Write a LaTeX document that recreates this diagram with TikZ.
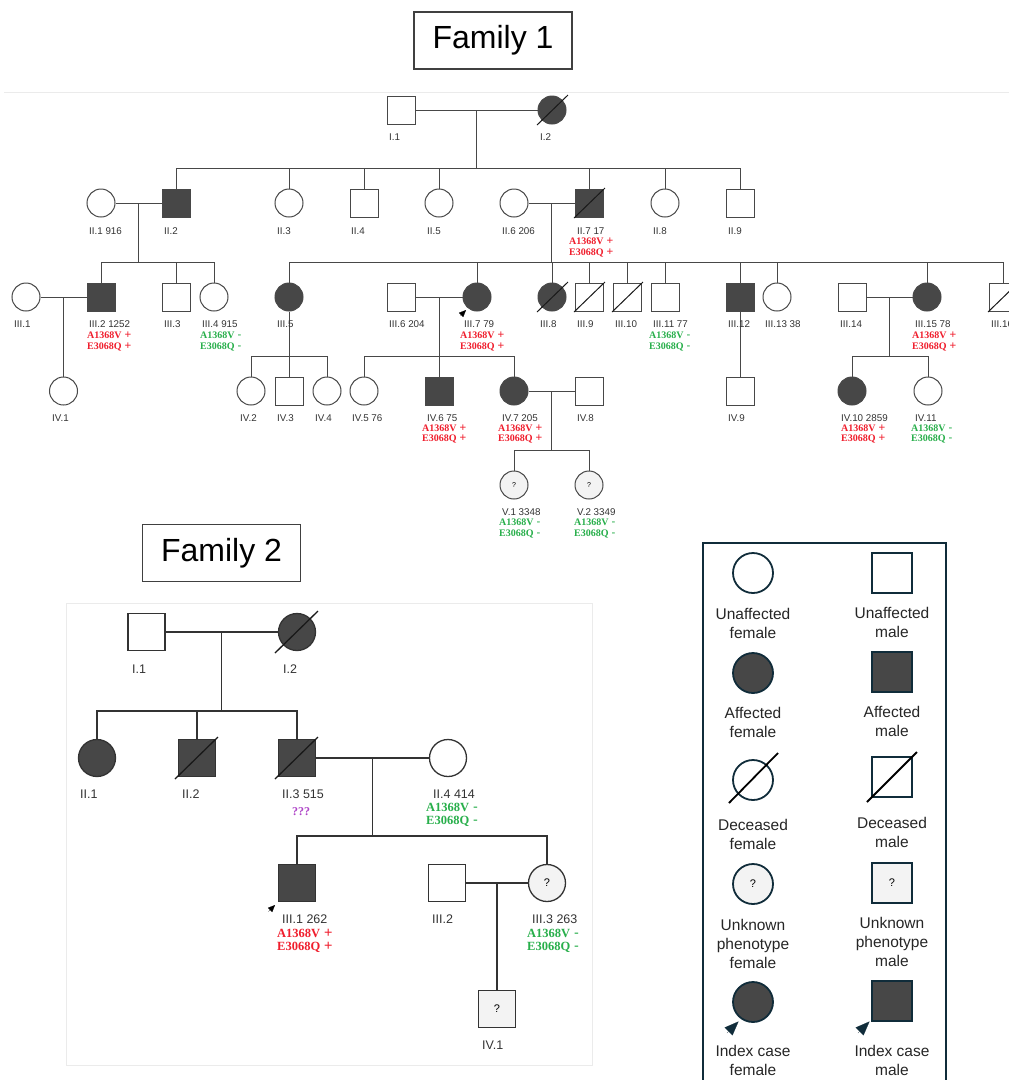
\documentclass[tikz,border=0pt]{standalone}
\usepackage{fontspec}
\setmainfont{Liberation Sans}
\newfontfamily\genofont{Liberation Serif}
\usetikzlibrary{arrows.meta,calc}

\definecolor{affgray}{RGB}{71,71,71}
\definecolor{unkgray}{RGB}{243,243,243}
\definecolor{linegray}{RGB}{72,72,72}
\definecolor{legteal}{RGB}{16,44,58}
\definecolor{posred}{RGB}{240,30,45}
\definecolor{neggreen}{RGB}{40,175,75}
\definecolor{unkpurple}{RGB}{175,70,200}

\newcommand{\gsign}[1]{\hspace{0.3em}{\mdseries\fontspec{Liberation Sans}\scalebox{1.15}{#1}}}
\newcommand{\genopos}{A1368V\gsign{+}\\E3068Q\gsign{+}}
\newcommand{\genoneg}{A1368V\gsign{-}\\E3068Q\gsign{-}}

\tikzset{
  female/.style={circle, draw=linegray, line width=1pt, fill=white, inner sep=0pt, minimum size=28pt},
  male/.style={rectangle, draw=linegray, line width=1pt, fill=white, inner sep=0pt, minimum size=28pt},
  affected/.style={fill=affgray},
  unknown/.style={fill=unkgray, font=\fontsize{7}{7}\selectfont},
  big/.style={minimum size=37pt, line width=1.3pt, draw=black!80},
  link/.style={draw=linegray, line width=1pt, line join=miter},
  linkB/.style={draw=black!80, line width=1.3pt, line join=miter},
  slash/.style={draw=black!90, line width=1pt},
  lbl/.style={anchor=west, inner sep=0pt, text=black!80, font=\fontsize{9.8}{10}\selectfont},
  lblB/.style={lbl, font=\fontsize{12.5}{13}\selectfont},
  geno/.style={anchor=west, inner sep=0pt, align=left, font=\genofont\bfseries\fontsize{10}{10.5}\selectfont},
  genoB/.style={geno, font=\genofont\bfseries\fontsize{12.5}{13.5}\selectfont},
  plusgeno/.style={text=posred},
  neg/.style={text=neggreen},
  titlebox/.style={draw=black!75, line width=1.2pt, inner sep=0pt, minimum width=158pt, minimum height=57pt, font=\fontsize{32}{32}\selectfont},
  legF/.style={circle, draw=legteal, line width=1.8pt, fill=white, inner sep=0pt, minimum size=40pt, font=\fontsize{11}{11}\selectfont},
  legM/.style={legF, rectangle},
  legtxt/.style={align=center, inner sep=0pt, text=black!85, font=\fontsize{15.5}{19}\selectfont},
  idxS/.style={line width=0.1pt, -{Triangle[length=7pt, width=6pt]}},
  idxL/.style={legteal, line width=0.1pt, -{Triangle[length=14pt, width=11pt]}},
}

\begin{document}
\begin{tikzpicture}[x=1pt, y=-1pt]
    \useasboundingbox (0,0) rectangle (1009,1080);
    \fill[white] (0,0) rectangle (1009,1080);
    \clip (0,0) rectangle (1009,1080);

    % Titles and frames
    \node[titlebox] (fam1) at (493,40.5) {Family 1};
    \node[titlebox] (fam2) at (221.5,553) {Family 2};
    \draw[black!8, line width=0.8pt] (4,92) -- (1009,92);
    \draw[black!8, line width=0.8pt] (66,603) rectangle (592,1065);

    % Family 1: generation I
    \node[male] (aI1) at (401,110) {};
    \node[female, affected] (aI2) at (552,110) {};

    % Family 1: generation II
    \node[female] (aII1) at (101,203) {};
    \node[male, affected] (aII2) at (176,203) {};
    \node[female] (aII3) at (289,203) {};
    \node[male] (aII4) at (364,203) {};
    \node[female] (aII5) at (439,203) {};
    \node[female] (aII6) at (514,203) {};
    \node[male, affected] (aII7) at (589,203) {};
    \node[female] (aII8) at (665,203) {};
    \node[male] (aII9) at (740,203) {};

    % Family 1: generation III
    \node[female] (aIII1) at (26,297) {};
    \node[male, affected] (aIII2) at (101,297) {};
    \node[male] (aIII3) at (176,297) {};
    \node[female] (aIII4) at (214,297) {};
    \node[female, affected] (aIII5) at (289,297) {};
    \node[male] (aIII6) at (401,297) {};
    \node[female, affected] (aIII7) at (477,297) {};
    \node[female, affected] (aIII8) at (552,297) {};
    \node[male] (aIII9) at (589,297) {};
    \node[male] (aIII10) at (627,297) {};
    \node[male] (aIII11) at (665,297) {};
    \node[male, affected] (aIII12) at (740,297) {};
    \node[female] (aIII13) at (777,297) {};
    \node[male] (aIII14) at (852,297) {};
    \node[female, affected] (aIII15) at (927,297) {};
    \node[male] (aIII16) at (1003,297) {};

    % Family 1: generation IV
    \node[female] (aIV1) at (63.5,391) {};
    \node[female] (aIV2) at (251,391) {};
    \node[male] (aIV3) at (289,391) {};
    \node[female] (aIV4) at (327,391) {};
    \node[female] (aIV5) at (364,391) {};
    \node[male, affected] (aIV6) at (439,391) {};
    \node[female, affected] (aIV7) at (514,391) {};
    \node[male] (aIV8) at (589,391) {};
    \node[male] (aIV9) at (740,391) {};
    \node[female, affected] (aIV10) at (852,391) {};
    \node[female] (aIV11) at (928,391) {};

    % Family 1: generation V
    \node[female, unknown] (aV1) at (514,485) {?};
    \node[female, unknown] (aV2) at (589,485) {?};

    % Family 1: connectors
    \draw[link] (aI1) -- (aI2);
    \coordinate (aMI) at ($(aI1)!0.5!(aI2)$);
    \coordinate (aSII) at ($(aMI)+(0,58)$);
    \draw[link] (aMI) -- (aSII);
    \foreach \c in {aII2,aII3,aII4,aII5,aII7,aII8,aII9}
        \draw[link] (\c.north) |- (aSII);

    \draw[link] (aII1) -- (aII2);
    \coordinate (aMII12) at ($(aII1)!0.5!(aII2)$);
    \coordinate (aSIIIa) at ($(aMII12)+(0,59)$);
    \draw[link] (aMII12) -- (aSIIIa);
    \foreach \c in {aIII2,aIII3,aIII4}
        \draw[link] (\c.north) |- (aSIIIa);

    \draw[link] (aII6) -- (aII7);
    \coordinate (aMII67) at ($(aII6)!0.5!(aII7)$);
    \coordinate (aSIIIb) at ($(aMII67)+(0,59)$);
    \draw[link] (aMII67) -- (aSIIIb);
    \foreach \c in {aIII5,aIII7,aIII8,aIII9,aIII10,aIII11,aIII12,aIII13,aIII15,aIII16}
        \draw[link] (\c.north) |- (aSIIIb);

    \draw[link] (aIII1) -- (aIII2);
    \coordinate (aMIII12) at ($(aIII1)!0.5!(aIII2)$);
    \draw[link] (aMIII12) -- (aIV1.north);

    \coordinate (aSIVa) at ($(aIII5.south)+(0,45)$);
    \draw[link] (aIII5.south) -- (aSIVa);
    \foreach \c in {aIV2,aIV3,aIV4}
        \draw[link] (\c.north) |- (aSIVa);

    \draw[link] (aIII6) -- (aIII7);
    \coordinate (aMIII67) at ($(aIII6)!0.5!(aIII7)$);
    \coordinate (aSIVb) at ($(aMIII67)+(0,59)$);
    \draw[link] (aMIII67) -- (aSIVb);
    \foreach \c in {aIV5,aIV6,aIV7}
        \draw[link] (\c.north) |- (aSIVb);

    \draw[link] (aIII12.south) -- (aIV9.north);

    \draw[link] (aIII14) -- (aIII15);
    \coordinate (aMIII1415) at ($(aIII14)!0.5!(aIII15)$);
    \coordinate (aSIVc) at ($(aMIII1415)+(0,59)$);
    \draw[link] (aMIII1415) -- (aSIVc);
    \foreach \c in {aIV10,aIV11}
        \draw[link] (\c.north) |- (aSIVc);

    \draw[link] (aIV7) -- (aIV8);
    \coordinate (aMIV78) at ($(aIV7)!0.5!(aIV8)$);
    \coordinate (aSV) at ($(aMIV78)+(0,59)$);
    \draw[link] (aMIV78) -- (aSV);
    \foreach \c in {aV1,aV2}
        \draw[link] (\c.north) |- (aSV);

    % Family 1: deceased
    \foreach \n in {aI2,aII7,aIII8,aIII9,aIII10,aIII16}
        \draw[slash] ($(\n.center)+(-15,15)$) -- ($(\n.center)+(16,-15)$);

    % Family 1: index case
    \coordinate (aIII7i) at (460.5,315.5);
    \coordinate (aIII7t) at (466,310);
    \draw[idxS] (aIII7i) -- (aIII7t);

    % Family 1: labels
    \node[lbl] (aI1l) at (389,137) {I.1};
    \node[lbl] (aI2l) at (540,137) {I.2};

    \node[lbl] (aII1l) at (89,231) {II.1 916};
    \node[lbl] (aII2l) at (164,231) {II.2};
    \node[lbl] (aII3l) at (277,231) {II.3};
    \node[lbl] (aII4l) at (351,231) {II.4};
    \node[lbl] (aII5l) at (427,231) {II.5};
    \node[lbl] (aII6l) at (502,231) {II.6 206};
    \node[lbl] (aII7l) at (577,231) {II.7 17};
    \node[lbl] (aII8l) at (653,231) {II.8};
    \node[lbl] (aII9l) at (728,231) {II.9};
    \node[geno, plusgeno] (aII7g) at (569,247.5) {\genopos};

    \node[lbl] (aIII1l) at (14,324) {III.1};
    \node[lbl] (aIII2l) at (89,324) {III.2 1252};
    \node[lbl] (aIII3l) at (164,324) {III.3};
    \node[lbl] (aIII4l) at (202,324) {III.4 915};
    \node[lbl] (aIII5l) at (277,324) {III.5};
    \node[lbl] (aIII6l) at (389,324) {III.6 204};
    \node[lbl] (aIII7l) at (464,324) {III.7 79};
    \node[lbl] (aIII8l) at (540,324) {III.8};
    \node[lbl] (aIII9l) at (577,324) {III.9};
    \node[lbl] (aIII10l) at (615,324) {III.10};
    \node[lbl] (aIII11l) at (653,324) {III.11 77};
    \node[lbl] (aIII12l) at (728,324) {III.12};
    \node[lbl] (aIII13l) at (765,324) {III.13 38};
    \node[lbl] (aIII14l) at (840,324) {III.14};
    \node[lbl] (aIII15l) at (915,324) {III.15 78};
    \node[lbl] (aIII16l) at (991,324) {III.16};
    \node[geno, plusgeno] (aIII2g) at (87,341.5) {\genopos};
    \node[geno, neg] (aIII4g) at (200,341.5) {\genoneg};
    \node[geno, plusgeno] (aIII7g) at (460,341.5) {\genopos};
    \node[geno, neg] (aIII11g) at (649,341.5) {\genoneg};
    \node[geno, plusgeno] (aIII15g) at (912,341.5) {\genopos};

    \node[lbl] (aIV1l) at (52,418) {IV.1};
    \node[lbl] (aIV2l) at (240,418) {IV.2};
    \node[lbl] (aIV3l) at (277,418) {IV.3};
    \node[lbl] (aIV4l) at (315,418) {IV.4};
    \node[lbl] (aIV5l) at (352,418) {IV.5 76};
    \node[lbl] (aIV6l) at (427,418) {IV.6 75};
    \node[lbl] (aIV7l) at (502,418) {IV.7 205};
    \node[lbl] (aIV8l) at (577,418) {IV.8};
    \node[lbl] (aIV9l) at (728,418) {IV.9};
    \node[lbl] (aIV10l) at (841,418) {IV.10 2859};
    \node[lbl] (aIV11l) at (915,418) {IV.11};
    \node[geno, plusgeno] (aIV6g) at (422,434) {\genopos};
    \node[geno, plusgeno] (aIV7g) at (498,434) {\genopos};
    \node[geno, plusgeno] (aIV10g) at (841,434) {\genopos};
    \node[geno, neg] (aIV11g) at (911,434) {\genoneg};

    \node[lbl] (aV1l) at (502,512) {V.1 3348};
    \node[lbl] (aV2l) at (577,512) {V.2 3349};
    \node[geno, neg] (aV1g) at (499,528.5) {\genoneg};
    \node[geno, neg] (aV2g) at (574,528.5) {\genoneg};

    % Family 2: persons
    \node[male, big] (bI1) at (146.5,632) {};
    \node[female, big, affected] (bI2) at (297,632) {};
    \node[female, big, affected] (bII1) at (97,758) {};
    \node[male, big, affected] (bII2) at (197,758) {};
    \node[male, big, affected] (bII3) at (297,758) {};
    \node[female, big] (bII4) at (448,758) {};
    \node[male, big, affected] (bIII1) at (297,883) {};
    \node[male, big] (bIII2) at (447,883) {};
    \node[female, big, unknown, font=\fontsize{11}{11}\selectfont] (bIII3) at (547,883) {?};
    \node[male, big, unknown, font=\fontsize{11}{11}\selectfont] (bIV1) at (497,1009) {?};

    % Family 2: connectors
    \draw[linkB] (bI1) -- (bI2);
    \coordinate (bMI) at ($(bI1)!0.5!(bI2)$);
    \coordinate (bSII) at ($(bMI)+(0,79)$);
    \draw[linkB] (bMI) -- (bSII);
    \foreach \c in {bII1,bII2,bII3}
        \draw[linkB] (\c.north) |- (bSII);

    \draw[linkB] (bII3) -- (bII4);
    \coordinate (bMII) at ($(bII3)!0.5!(bII4)$);
    \coordinate (bSIII) at ($(bMII)+(0,78)$);
    \draw[linkB] (bMII) -- (bSIII);
    \foreach \c in {bIII1,bIII3}
        \draw[linkB] (\c.north) |- (bSIII);

    \draw[linkB] (bIII2) -- (bIII3);
    \coordinate (bMIII) at ($(bIII2)!0.5!(bIII3)$);
    \draw[linkB] (bMIII) -- (bIV1.north);

    % Family 2: deceased
    \foreach \n in {bI2,bII2,bII3}
        \draw[slash, line width=1.3pt] ($(\n.center)+(-22,21)$) -- ($(\n.center)+(21,-21)$);

    % Family 2: index case
    \coordinate (bIII1i) at (268.5,911.5);
    \coordinate (bIII1t) at (275,905);
    \draw[idxS] (bIII1i) -- (bIII1t);

    % Family 2: labels
    \node[lblB] (bI1l) at (132,669) {I.1};
    \node[lblB] (bI2l) at (283,669) {I.2};
    \node[lblB] (bII1l) at (80,794) {II.1};
    \node[lblB] (bII2l) at (182,794) {II.2};
    \node[lblB] (bII3l) at (282,794) {II.3 515};
    \node[lblB] (bII4l) at (433,794) {II.4 414};
    \node[inner sep=0pt, text=unkpurple, font=\genofont\bfseries\fontsize{12}{12}\selectfont] (bII3q) at (301,812) {???};
    \node[genoB, neg] (bII4g) at (426,815) {\genoneg};
    \node[lblB] (bIII1l) at (282,919) {III.1 262};
    \node[lblB] (bIII2l) at (432,919) {III.2};
    \node[lblB] (bIII3l) at (532,919) {III.3 263};
    \node[genoB, plusgeno] (bIII1g) at (277,941) {\genopos};
    \node[genoB, neg] (bIII3g) at (527,941) {\genoneg};
    \node[lblB] (bIV1l) at (482,1045) {IV.1};

    % Legend
    \draw[legteal, line width=2.5pt] (703,543) rectangle (946,1095);
    \node[legF] (lgF1) at (753,573) {};
    \node[legM] (lgM1) at (892,573) {};
    \node[legtxt] (lgF1t) at (753,623.5) {Unaffected\\female};
    \node[legtxt] (lgM1t) at (892,622.5) {Unaffected\\male};

    \node[legF, fill=affgray] (lgF2) at (753,673) {};
    \node[legM, fill=affgray] (lgM2) at (892,672) {};
    \node[legtxt] (lgF2t) at (753,722.5) {Affected\\female};
    \node[legtxt] (lgM2t) at (892,721.5) {Affected\\male};

    \node[legF] (lgF3) at (753,780) {};
    \node[legM] (lgM3) at (892,777) {};
    \draw[black, line width=1.8pt] ($(lgF3.center)+(-24,23)$) -- ($(lgF3.center)+(25,-27)$);
    \draw[black, line width=1.8pt] ($(lgM3.center)+(-25,25)$) -- ($(lgM3.center)+(25,-25)$);
    \node[legtxt] (lgF3t) at (753,834) {Deceased\\female};
    \node[legtxt] (lgM3t) at (892,832.5) {Deceased\\male};

    \node[legF, fill=unkgray] (lgF4) at (753,884) {?};
    \node[legM, fill=unkgray] (lgM4) at (892,883) {?};
    \node[legtxt] (lgF4t) at (753,944) {Unknown\\phenotype\\female};
    \node[legtxt] (lgM4t) at (892,942) {Unknown\\phenotype\\male};

    \node[legF, fill=affgray] (lgF5) at (753,1002) {};
    \node[legM, fill=affgray] (lgM5) at (892,1001) {};
    \coordinate (lgF5i) at (727,1033);
    \coordinate (lgF5t0) at (738.5,1021.5);
    \coordinate (lgM5i) at (858,1033);
    \coordinate (lgM5t0) at (869.5,1021.5);
    \draw[idxL] (lgF5i) -- (lgF5t0);
    \draw[idxL] (lgM5i) -- (lgM5t0);
    \node[legtxt] (lgF5t) at (753,1060) {Index case\\female};
    \node[legtxt] (lgM5t) at (892,1060) {Index case\\male};
\end{tikzpicture}
\end{document}
